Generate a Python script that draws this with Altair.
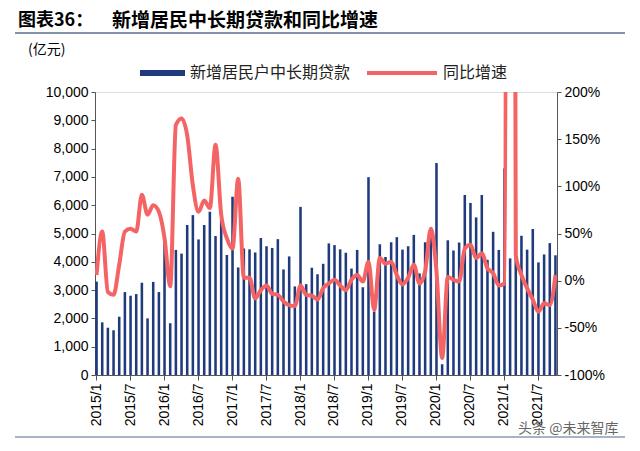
import altair as alt
import pandas as pd

# ---- data ----
months = [f"{2015 + i // 12}/{i % 12 + 1}" for i in range(82)]
tick_months = [m for m in months if m.endswith("/1") or m.endswith("/7")]

loans = [
    3300, 1860, 1670, 1580, 2060, 2930, 2800, 2860, 3260, 2000, 3290, 2930,
    4750, 1830, 4420, 4290, 5300, 5650, 4790, 5300, 5770, 4910, 5500, 4240,
    6300, 3800, 4470, 4440, 4330, 4840, 4550, 4490, 4800, 3730, 4190, 3130,
    5940, 3210, 3790, 3560, 3930, 4650, 4590, 4440, 4320, 3760, 4420, 3100,
    6990, 2240, 4620, 4170, 4690, 4870, 4430, 4550, 4950, 3590, 4690, 4850,
    7490, 380, 4760, 4400, 4680, 6360, 6080, 5570, 6360, 4070, 5060, 4420,
    7300, 4120, 6050, 4920, 4430, 5160, 3980, 4260, 4660, 4230,
]
growth = [
    6, 52, -12, -15, 17, 52, 55, 52, 91, 70, 80, 73,
    45, -6, 165, 172, 154, 101, 73, 85, 77, 144, 70, 45,
    34, 108, 3, 3, -19, -10, -5, -14, -15, -22, -26, -27,
    -5, -15, -16, -20, -8, -3, 1, -5, -10, 1, 6, -1,
    20, -31, 24, 18, 20, 6, -4, 3, 17, -3, 10, 55,
    10, -82, 4, 1, -1, 34, 38, 24, 29, 13, 8, -5,
    -3, 2500, 27, 6, -8, -20, -33, -24, -26, 6,
]

title_num = "图表36："
title_text = "新增居民中长期贷款和同比增速"
unit_text = "(亿元)"
legend_bar = "新增居民户中长期贷款"
legend_line = "同比增速"
watermark = "头条 @未来智库"

df = pd.DataFrame({"month": months, "loan": loans, "growth": growth})

BAR = "#1F3A7D"
LINE = "#F46464"
FONT = "Liberation Sans"
CJK = "Noto Sans CJK SC"

x_enc = alt.X(
    "month:N", sort=months, title=None,
    scale=alt.Scale(paddingInner=0.55, paddingOuter=0.05),
    axis=alt.Axis(values=tick_months, labelAngle=270, labelFont=FONT, labelFontSize=14,
                  labelColor="#000", domainColor="#555", tickColor="#555", tickSize=5,
                  labelPadding=3),
)

bars = alt.Chart(df).mark_bar(color=BAR).encode(
    x=x_enc,
    y=alt.Y("loan:Q", title=None,
            scale=alt.Scale(domain=[0, 10000]),
            axis=alt.Axis(values=list(range(0, 10001, 1000)), format=",.0f", grid=False,
                          labelFont=FONT, labelFontSize=14, labelColor="#000",
                          domainColor="#555", tickColor="#555", tickSize=4, labelPadding=3)),
)

line = alt.Chart(df).mark_line(color=LINE, strokeWidth=4, interpolate="monotone", clip=True).encode(
    x=alt.X("month:N", sort=months),
    y=alt.Y("growth:Q", title=None,
            scale=alt.Scale(domain=[-100, 200]),
            axis=alt.Axis(orient="right", values=list(range(-100, 201, 50)),
                          labelExpr="datum.value + '%'", grid=False,
                          labelFont=FONT, labelFontSize=14, labelColor="#000",
                          domainColor="#555", tickColor="#555", tickSize=4, labelPadding=3)),
)

def txt(s, x, y, size, color="#000", weight="normal", font=CJK, align="left"):
    return alt.Chart(pd.DataFrame({"t": [s]})).mark_text(
        font=font, fontSize=size, fontWeight=weight, color=color, align=align, baseline="middle"
    ).encode(text="t:N", x=alt.value(x), y=alt.value(y))

title1 = txt(title_num, -77, -71, 18, weight="bold")
title2 = txt(title_text, 17, -71, 19, weight="bold")
unit = txt(unit_text, -67, -42, 14)
leg_bar_t = txt(legend_bar, 95, -19, 16, color="#222")
leg_line_t = txt(legend_line, 348, -19, 16, color="#222")
wm = txt(watermark, 423, 337, 14, color="#666")

title_rule = alt.Chart(pd.DataFrame({"a": [0]})).mark_rule(color="#5B6E8C", strokeWidth=1.5).encode(
    x=alt.value(-80), x2=alt.value(530), y=alt.value(-59))
bottom_rule = alt.Chart(pd.DataFrame({"a": [0]})).mark_rule(color="#8A9AB5", strokeWidth=1.5).encode(
    x=alt.value(-80), x2=alt.value(530), y=alt.value(345))
leg_rect = alt.Chart(pd.DataFrame({"a": [0]})).mark_rect(color=BAR).encode(
    x=alt.value(45), x2=alt.value(90), y=alt.value(-22), y2=alt.value(-16))
leg_line = alt.Chart(pd.DataFrame({"a": [0]})).mark_rule(color=LINE, strokeWidth=4).encode(
    x=alt.value(272), x2=alt.value(342), y=alt.value(-19))

chart = alt.layer(
    bars, line, title1, title2, unit, title_rule, bottom_rule, leg_rect, leg_bar_t, leg_line,
    leg_line_t, wm
).resolve_scale(y="independent").properties(
    width=462, height=283,
    padding={"left": 87, "top": 84, "right": 75, "bottom": 63},
    autosize=alt.AutoSizeParams(type="none"),
).configure_view(stroke=None).configure(background="white")

chart.save("out.html", embed_options={"renderer": "svg", "actions": False})
